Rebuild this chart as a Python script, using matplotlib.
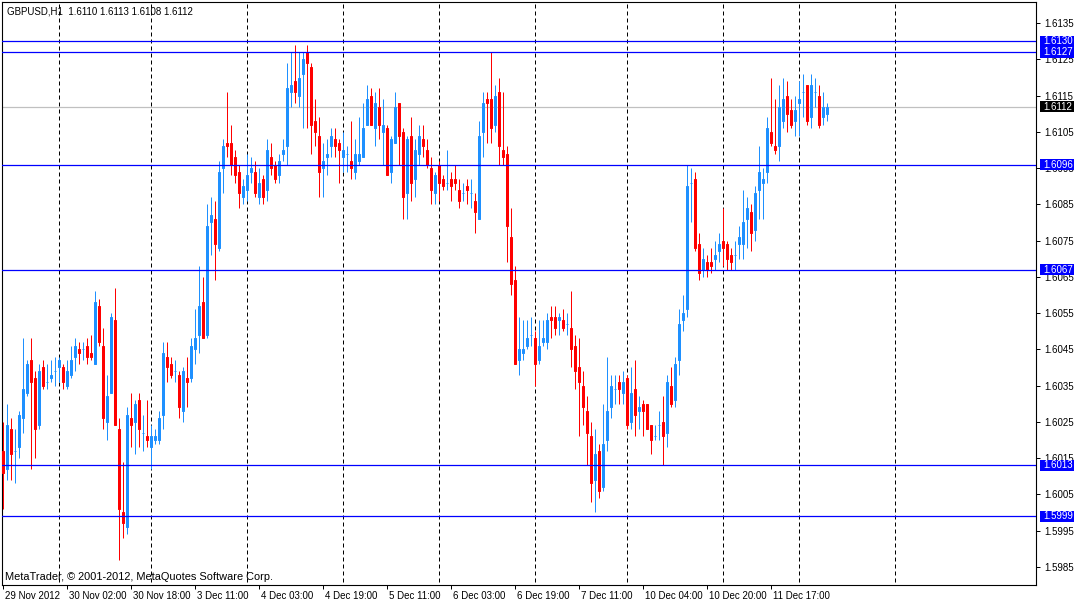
import matplotlib
matplotlib.use("Agg")
import matplotlib.pyplot as plt
import matplotlib.transforms as mtransforms
from matplotlib.patches import Rectangle

plt.rcParams['font.family'] = ['Liberation Sans', 'DejaVu Sans']

# chart header / footer text
symbol_text = "GBPUSD,H1  1.6110 1.6113 1.6108 1.6112"
copyright_text = "MetaTrader, \u00a9 2001-2012, MetaQuotes Software Corp."

# H1 bars (oldest first)
opens = [
    1.6017, 1.6012, 1.6023, 1.6017, 1.6018, 1.6026, 1.6033, 1.6042, 1.6037, 1.6024,
    1.6040, 1.6036, 1.6037, 1.6039, 1.6040, 1.6040, 1.6035, 1.6038, 1.6043, 1.6045,
    1.6045, 1.6046, 1.6044, 1.6041, 1.6057, 1.6046, 1.6025, 1.6033, 1.6053, 1.6023,
    1.6000, 1.5996, 1.6026, 1.6025, 1.6031, 1.6022, 1.6021, 1.6018, 1.6020, 1.6020,
    1.6027, 1.6043, 1.6041, 1.6039, 1.6038, 1.6028, 1.6037, 1.6037, 1.6045, 1.6049,
    1.6058, 1.6049, 1.6080, 1.6081, 1.6073, 1.6095, 1.6102, 1.6102, 1.6098, 1.6094,
    1.6087, 1.6089, 1.6094, 1.6094, 1.6087, 1.6092, 1.6089, 1.6098, 1.6096, 1.6093,
    1.6099, 1.6101, 1.6116, 1.6119, 1.6115, 1.6121, 1.6127, 1.6123, 1.6108, 1.6104,
    1.6095, 1.6098, 1.6101, 1.6103, 1.6102, 1.6098, 1.6099, 1.6097, 1.6094, 1.6097,
    1.6098, 1.6107, 1.6115, 1.6106, 1.6112, 1.6105, 1.6106, 1.6094, 1.6102, 1.6113,
    1.6105, 1.6088, 1.6104, 1.6092, 1.6099, 1.6103, 1.6100, 1.6095, 1.6088, 1.6096,
    1.6092, 1.6091, 1.6092, 1.6092, 1.6089, 1.6088, 1.6090, 1.6088, 1.6086, 1.6081,
    1.6105, 1.6114, 1.6114, 1.6107, 1.6116, 1.6100, 1.6099, 1.6076, 1.6064, 1.6042,
    1.6044, 1.6046, 1.6049, 1.6048, 1.6042, 1.6047, 1.6047, 1.6054, 1.6054, 1.6053,
    1.6053, 1.6052, 1.6051, 1.6046, 1.6040, 1.6035, 1.6028, 1.6021, 1.6009, 1.6017,
    1.6007, 1.6020, 1.6029, 1.6034, 1.6036, 1.6033, 1.6037, 1.6025, 1.6034, 1.6028,
    1.6030, 1.6030, 1.6024, 1.6021, 1.6024, 1.6025, 1.6022, 1.6035, 1.6031, 1.6042,
    1.6053, 1.6056, 1.6091, 1.6092, 1.6074, 1.6067, 1.6069, 1.6069, 1.6070, 1.6072,
    1.6075, 1.6074, 1.6071, 1.6071, 1.6074, 1.6074, 1.6081, 1.6083, 1.6078, 1.6089,
    1.6091, 1.6094, 1.6105, 1.6101, 1.6101, 1.6108, 1.6115, 1.6111, 1.6108, 1.6113,
    1.6116, 1.6118, 1.6109, 1.6116, 1.6115, 1.6109, 1.6110,
]
highs = [
    1.6025, 1.6030, 1.6026, 1.6023, 1.6028, 1.6048, 1.6042, 1.6048, 1.6039, 1.6041,
    1.6042, 1.6041, 1.6042, 1.6043, 1.6043, 1.6041, 1.6042, 1.6046, 1.6048, 1.6047,
    1.6047, 1.6048, 1.6049, 1.6061, 1.6059, 1.6051, 1.6038, 1.6055, 1.6062, 1.6026,
    1.6014, 1.6029, 1.6033, 1.6031, 1.6033, 1.6027, 1.6031, 1.6024, 1.6023, 1.6028,
    1.6047, 1.6047, 1.6043, 1.6042, 1.6039, 1.6040, 1.6043, 1.6048, 1.6056, 1.6068,
    1.6065, 1.6085, 1.6087, 1.6086, 1.6097, 1.6103, 1.6116, 1.6107, 1.6100, 1.6096,
    1.6092, 1.6099, 1.6098, 1.6097, 1.6095, 1.6093, 1.6103, 1.6102, 1.6097, 1.6099,
    1.6103, 1.6124, 1.6127, 1.6129, 1.6127, 1.6127, 1.6129, 1.6124, 1.6114, 1.6109,
    1.6102, 1.6103, 1.6106, 1.6106, 1.6103, 1.6105, 1.6101, 1.6108, 1.6103, 1.6109,
    1.6113, 1.6118, 1.6117, 1.6116, 1.6117, 1.6114, 1.6107, 1.6104, 1.6116, 1.6113,
    1.6106, 1.6104, 1.6109, 1.6103, 1.6107, 1.6107, 1.6103, 1.6098, 1.6094, 1.6097,
    1.6093, 1.6100, 1.6094, 1.6096, 1.6092, 1.6091, 1.6092, 1.6092, 1.6088, 1.6108,
    1.6116, 1.6116, 1.6127, 1.6118, 1.6120, 1.6116, 1.6101, 1.6084, 1.6068, 1.6054,
    1.6053, 1.6053, 1.6054, 1.6050, 1.6053, 1.6053, 1.6055, 1.6057, 1.6057, 1.6055,
    1.6056, 1.6055, 1.6061, 1.6049, 1.6048, 1.6039, 1.6032, 1.6025, 1.6023, 1.6019,
    1.6030, 1.6043, 1.6038, 1.6038, 1.6038, 1.6039, 1.6038, 1.6040, 1.6042, 1.6032,
    1.6031, 1.6030, 1.6024, 1.6024, 1.6028, 1.6032, 1.6038, 1.6040, 1.6043, 1.6056,
    1.6060, 1.6096, 1.6095, 1.6094, 1.6077, 1.6073, 1.6071, 1.6073, 1.6075, 1.6077,
    1.6084, 1.6075, 1.6073, 1.6075, 1.6079, 1.6089, 1.6087, 1.6085, 1.6090, 1.6101,
    1.6095, 1.6109, 1.6120, 1.6114, 1.6118, 1.6120, 1.6119, 1.6114, 1.6115, 1.6119,
    1.6121, 1.6118, 1.6121, 1.6120, 1.6118, 1.6116, 1.6113,
]
lows = [
    1.6001, 1.6009, 1.6009, 1.6008, 1.6015, 1.6022, 1.6032, 1.6012, 1.6015, 1.6023,
    1.6034, 1.6034, 1.6036, 1.6035, 1.6036, 1.6034, 1.6034, 1.6037, 1.6039, 1.6041,
    1.6042, 1.6041, 1.6042, 1.6041, 1.6046, 1.6023, 1.6020, 1.6033, 1.6024, 1.5987,
    1.5993, 1.5994, 1.6018, 1.6016, 1.6018, 1.6017, 1.6018, 1.6012, 1.6019, 1.6019,
    1.6023, 1.6036, 1.6037, 1.6036, 1.6026, 1.6025, 1.6029, 1.6036, 1.6041, 1.6044,
    1.6048, 1.6048, 1.6071, 1.6064, 1.6072, 1.6088, 1.6098, 1.6093, 1.6091, 1.6084,
    1.6085, 1.6086, 1.6091, 1.6087, 1.6085, 1.6085, 1.6086, 1.6093, 1.6091, 1.6091,
    1.6097, 1.6096, 1.6112, 1.6113, 1.6112, 1.6106, 1.6106, 1.6099, 1.6101, 1.6087,
    1.6087, 1.6093, 1.6098, 1.6098, 1.6091, 1.6094, 1.6094, 1.6092, 1.6092, 1.6096,
    1.6098, 1.6107, 1.6107, 1.6101, 1.6103, 1.6096, 1.6093, 1.6091, 1.6102, 1.6096,
    1.6081, 1.6081, 1.6086, 1.6087, 1.6096, 1.6098, 1.6095, 1.6085, 1.6085, 1.6086,
    1.6089, 1.6089, 1.6086, 1.6089, 1.6084, 1.6086, 1.6085, 1.6084, 1.6077, 1.6081,
    1.6098, 1.6102, 1.6102, 1.6105, 1.6096, 1.6096, 1.6069, 1.6060, 1.6041, 1.6038,
    1.6042, 1.6045, 1.6046, 1.6035, 1.6041, 1.6046, 1.6045, 1.6048, 1.6049, 1.6049,
    1.6050, 1.6049, 1.6040, 1.6034, 1.6021, 1.6024, 1.6013, 1.6003, 1.6000, 1.6004,
    1.6006, 1.6017, 1.6026, 1.6030, 1.6030, 1.6030, 1.6023, 1.6023, 1.6021, 1.6023,
    1.6021, 1.6023, 1.6016, 1.6020, 1.6020, 1.6013, 1.6018, 1.6029, 1.6029, 1.6038,
    1.6050, 1.6054, 1.6080, 1.6072, 1.6064, 1.6065, 1.6065, 1.6066, 1.6067, 1.6069,
    1.6068, 1.6067, 1.6067, 1.6067, 1.6070, 1.6070, 1.6073, 1.6072, 1.6075, 1.6081,
    1.6081, 1.6091, 1.6101, 1.6099, 1.6097, 1.6106, 1.6105, 1.6106, 1.6104, 1.6104,
    1.6109, 1.6107, 1.6106, 1.6112, 1.6106, 1.6107, 1.6108,
]
closes = [
    1.6011, 1.6024, 1.6016, 1.6017, 1.6027, 1.6034, 1.6041, 1.6036, 1.6023, 1.6039,
    1.6035, 1.6036, 1.6038, 1.6039, 1.6042, 1.6036, 1.6039, 1.6042, 1.6046, 1.6044,
    1.6045, 1.6043, 1.6043, 1.6058, 1.6047, 1.6026, 1.6032, 1.6054, 1.6024, 1.6001,
    1.5997, 1.6027, 1.6024, 1.6030, 1.6023, 1.6022, 1.6020, 1.6021, 1.6021, 1.6026,
    1.6044, 1.6040, 1.6038, 1.6039, 1.6029, 1.6039, 1.6036, 1.6046, 1.6048, 1.6057,
    1.6048, 1.6079, 1.6082, 1.6074, 1.6094, 1.6101, 1.6101, 1.6096, 1.6093, 1.6088,
    1.6090, 1.6093, 1.6095, 1.6088, 1.6091, 1.6087, 1.6100, 1.6095, 1.6092, 1.6097,
    1.6100, 1.6117, 1.6118, 1.6116, 1.6120, 1.6125, 1.6124, 1.6107, 1.6105, 1.6094,
    1.6097, 1.6099, 1.6104, 1.6101, 1.6100, 1.6100, 1.6099, 1.6095, 1.6099, 1.6099,
    1.6106, 1.6114, 1.6107, 1.6113, 1.6107, 1.6107, 1.6093, 1.6103, 1.6112, 1.6104,
    1.6087, 1.6103, 1.6091, 1.6100, 1.6104, 1.6101, 1.6096, 1.6089, 1.6093, 1.6091,
    1.6090, 1.6091, 1.6090, 1.6091, 1.6086, 1.6088, 1.6089, 1.6088, 1.6083, 1.6104,
    1.6113, 1.6113, 1.6106, 1.6115, 1.6101, 1.6098, 1.6079, 1.6063, 1.6041, 1.6045,
    1.6045, 1.6048, 1.6049, 1.6041, 1.6046, 1.6048, 1.6053, 1.6053, 1.6051, 1.6054,
    1.6051, 1.6052, 1.6045, 1.6039, 1.6036, 1.6029, 1.6022, 1.6008, 1.6016, 1.6006,
    1.6019, 1.6028, 1.6035, 1.6034, 1.6034, 1.6036, 1.6024, 1.6033, 1.6027, 1.6029,
    1.6028, 1.6023, 1.6020, 1.6021, 1.6024, 1.6021, 1.6036, 1.6030, 1.6041, 1.6052,
    1.6055, 1.6090, 1.6091, 1.6073, 1.6066, 1.6070, 1.6067, 1.6068, 1.6071, 1.6074,
    1.6073, 1.6070, 1.6069, 1.6071, 1.6076, 1.6080, 1.6084, 1.6077, 1.6088, 1.6094,
    1.6092, 1.6106, 1.6102, 1.6100, 1.6112, 1.6114, 1.6110, 1.6107, 1.6111, 1.6114,
    1.6116, 1.6108, 1.6118, 1.6116, 1.6107, 1.6112, 1.6112,
]

# time scale labels, one every 16 bars
time_labels = ["29 Nov 2012", "30 Nov 02:00", "30 Nov 18:00", "3 Dec 11:00",
               "4 Dec 03:00", "4 Dec 19:00", "5 Dec 11:00", "6 Dec 03:00",
               "6 Dec 19:00", "7 Dec 11:00", "10 Dec 04:00", "10 Dec 20:00",
               "11 Dec 17:00"]
label_step = 16
# bar index where each new day starts (period separators)
day_breaks = [14, 37, 61, 85, 109, 133, 156, 180, 199, 223]

price_ticks = [1.5985, 1.5995, 1.6005, 1.6015, 1.6025, 1.6035, 1.6045, 1.6055,
               1.6065, 1.6075, 1.6085, 1.6095, 1.6105, 1.6115, 1.6125, 1.6135]
level_lines = [1.6130, 1.6127, 1.6096, 1.6067, 1.6013, 1.5999]
bid_price = 1.6112

bull_color = "#1e90ff"
bear_color = "#ff0000"
level_color = "#0000ff"

W, H = 1075, 602
fig = plt.figure(figsize=(W / 100, H / 100), dpi=100)
ax = fig.add_axes([2 / W, 17 / H, 1034 / W, 583 / H])
ax.set_xlim(-0.33, 258.2)
ax.set_ylim(1.597997, 1.614084)

# period separators
ax.vlines(day_breaks, 1.5970, 1.6150, colors="black", linewidth=0.72,
          linestyles=(0, (4, 3)), zorder=1)

# bid line
ax.axhline(bid_price, color="#c0c0c0", linewidth=0.9, zorder=2)

# candles
idx = list(range(len(opens)))
colors = [bull_color if c >= o else bear_color for o, c in zip(opens, closes)]
ax.vlines(idx, lows, highs, colors=colors, linewidth=0.72, zorder=3)
ax.bar(idx, [abs(c - o) for o, c in zip(opens, closes)], width=0.55,
       bottom=[min(o, c) for o, c in zip(opens, closes)],
       color=colors, edgecolor=colors, linewidth=0.72, zorder=3)

# horizontal levels
for p in level_lines:
    ax.axhline(p, color=level_color, linewidth=0.9, zorder=4)

# axes look
for s in ax.spines.values():
    s.set_color("black")
    s.set_linewidth(0.8)

ax.yaxis.tick_right()
ax.set_yticks(price_ticks)
ax.set_yticklabels([f"{p:.4f}" for p in price_ticks])
ax.tick_params(axis="y", direction="out", length=3, width=0.72, pad=3,
               labelsize=7, colors="black")

ax.set_xticks(list(range(0, label_step * len(time_labels), label_step)))
ax.set_xticklabels(time_labels, ha="left")
ax.tick_params(axis="x", direction="out", length=3, width=0.72, pad=1.5,
               labelsize=7, colors="black")
shift = mtransforms.ScaledTranslation(2 / 100, 0, fig.dpi_scale_trans)
for lab in ax.get_xticklabels():
    lab.set_transform(lab.get_transform() + shift)

# price tags on the right scale
ytrans = ax.get_yaxis_transform()
half_h = 5.5 / 36240
box_x = (1040 - 2) / 1034
box_w = 34 / 1034
text_x = (1043 - 2) / 1034
for p, face in [(v, level_color) for v in level_lines] + [(bid_price, "black")]:
    ax.add_patch(Rectangle((box_x, p - half_h), box_w, 2 * half_h,
                           transform=ytrans, facecolor=face, edgecolor="none",
                           clip_on=False, zorder=10))
    ax.text(text_x, p, f"{p:.4f}", transform=ytrans, color="white",
            fontsize=7, va="center", ha="left", clip_on=False, zorder=11)

fig.text(7 / W, 1 - 11 / H, symbol_text, fontsize=7, va="center", ha="left")
fig.text(5 / W, 1 - 577 / H, copyright_text, fontsize=7.9, va="center", ha="left")

fig.savefig("out.png", dpi=100, facecolor="white")
